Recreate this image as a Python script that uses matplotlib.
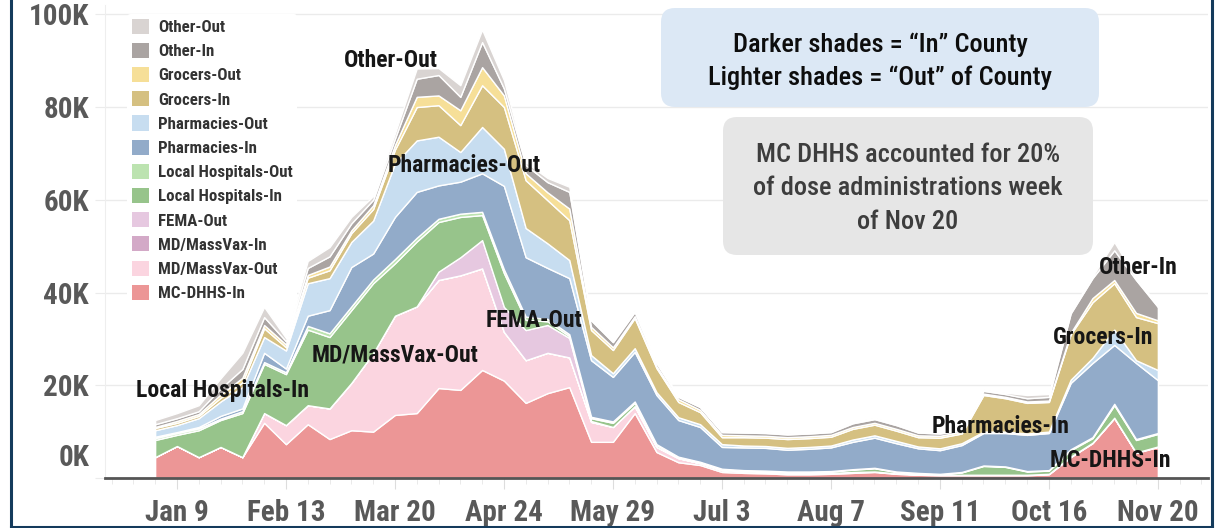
import matplotlib
matplotlib.use("Agg")
import matplotlib.pyplot as plt
import numpy as np
import pandas as pd
from matplotlib import font_manager
from matplotlib.patches import Patch, FancyBboxPatch
from matplotlib.lines import Line2D
from matplotlib.transforms import IdentityTransform

# weekly doses administered (thousands), week ending dates
weeks = pd.date_range("2021-01-02", "2021-11-20", freq="7D")

mc_dhhs_in = [4.5, 6.9, 4.5, 6.7, 4.5, 11.9, 7.3, 11.6, 8.4, 10.3, 10.0, 13.6, 14.0, 19.4, 19.0, 23.3,
              21.0, 16.2, 18.3, 19.6, 7.8, 7.8, 14.0, 5.6, 3.4, 2.8, 1.3, 1.1, 1.0, 0.8, 0.8, 0.9,
              1.1, 1.3, 0.9, 0.7, 0.6, 0.6, 0.6, 0.6, 0.6, 0.8, 4.5, 7.5, 12.9, 5.4, 6.7]
md_massvax_out = [0, 0, 0, 0, 0, 2.1, 4.1, 4.1, 6.6, 10.2, 16.9, 21.4, 23.0, 23.3, 24.7, 21.9,
                  10.5, 9.2, 8.7, 6.4, 4.3, 3.2, 1.5, 1.1, 0.9, 0.4, 0.4, 0.3, 0.3, 0.3, 0.3, 0.2,
                  0.2, 0.1, 0.1, 0.1, 0.1, 0.1, 0.1, 0.1, 0.1, 0.1, 0.1, 0.1, 0.1, 0.1, 0.1]
md_massvax_in = [0, 0, 0, 0, 0, 0, 0, 0, 0, 0, 0, 0, 0, 0, 0, 0,
                 0, 0, 0, 0, 0, 0, 0, 0, 0, 0, 0, 0, 0, 0, 0, 0,
                 0, 0, 0, 0, 0, 0, 0, 0, 0, 0, 0, 0, 0, 0, 0]
fema_out = [0, 0, 0, 0, 0, 0, 0, 0, 0, 0, 0, 0, 0, 1.8, 3.9, 6.1,
            5.4, 6.5, 6.0, 4.2, 0.2, 0, 0, 0, 0, 0, 0, 0, 0, 0, 0, 0,
            0, 0, 0, 0, 0, 0, 0, 0, 0, 0, 0, 0, 0, 0, 0]
local_hosp_in = [3.7, 2.4, 5.8, 5.8, 9.5, 10.6, 11.0, 16.3, 15.4, 15.7, 15.1, 11.3, 14.0, 10.7, 8.7, 5.4,
                 7.3, 2.2, 0.8, 0.4, 0.6, 0.9, 0.7, 0.4, 0.2, 0.2, 0.2, 0.2, 0.2, 0.2, 0.2, 0.3,
                 0.5, 0.7, 0.3, 0.2, 0.1, 0.5, 1.9, 1.7, 0.7, 0.7, 1.4, 1.0, 2.7, 2.7, 2.7]
local_hosp_out = [0.4, 0.4, 0.4, 0.3, 0.4, 0.4, 0.4, 0.8, 0.8, 0.8, 0.8, 0.9, 0.8, 0.7, 0.7, 0.7,
                  0.8, 0.7, 0.5, 0.4, 0.3, 0.3, 0.3, 0.2, 0.1, 0.1, 0.1, 0.1, 0.1, 0.1, 0.1, 0.1,
                  0.1, 0.1, 0.1, 0.1, 0.1, 0.1, 0.1, 0.1, 0.1, 0.1, 0.2, 0.2, 0.3, 0.2, 0.2]
pharm_in = [0.3, 0.2, 0.3, 0.6, 0.6, 2.0, 0.8, 2.2, 5.0, 8.5, 5.6, 9.1, 9.9, 7.2, 6.9, 8.3,
            18.0, 12.8, 11.0, 12.1, 12.2, 9.6, 10.7, 10.6, 7.9, 7.5, 4.7, 4.9, 4.9, 4.7, 4.9, 5.1,
            5.9, 6.5, 6.1, 5.3, 5.1, 5.8, 7.0, 7.2, 7.8, 8.0, 14.3, 16.0, 12.7, 16.4, 11.4]
pharm_out = [1.4, 1.5, 1.9, 3.1, 4.6, 3.4, 3.9, 7.0, 6.9, 5.4, 7.1, 11.5, 11.1, 10.5, 6.4, 10.0,
             8.0, 6.3, 5.3, 3.9, 1.1, 0.8, 0.8, 0.6, 0.6, 0.6, 0.6, 0.4, 0.4, 0.4, 0.4, 0.4,
             0.5, 0.5, 0.5, 0.4, 0.4, 0.4, 0.3, 0.3, 0.3, 0.3, 0.7, 1.1, 3.3, 0.6, 2.2]
grocers_in = [0.5, 0.5, 0.5, 0.8, 1.0, 1.9, 0.7, 1.2, 1.7, 1.9, 2.5, 3.0, 7.2, 6.8, 5.8, 9.0,
              9.0, 10.3, 9.3, 8.6, 5.4, 5.0, 6.5, 5.2, 3.3, 2.6, 1.5, 1.8, 1.8, 1.9, 1.9, 1.9,
              2.3, 2.3, 2.2, 2.0, 2.3, 2.1, 7.9, 7.2, 6.6, 6.4, 9.8, 12.0, 10.0, 9.3, 10.1]
grocers_out = [0.2, 0.4, 0.4, 0.7, 1.0, 0.7, 0.6, 0.6, 0.8, 0.6, 0.8, 1.0, 2.2, 2.1, 3.2, 3.9,
               2.5, 1.5, 1.7, 2.5, 0.7, 0.6, 0.4, 0.4, 0.6, 0.5, 0.5, 0.4, 0.4, 0.4, 0.4, 0.4,
               0.4, 0.4, 0.4, 0.4, 0.4, 0.4, 0.3, 0.3, 0.3, 0.3, 0.3, 0.9, 0.7, 0.9, 0.6]
other_in = [0.6, 0.6, 0.6, 1.3, 1.9, 1.7, 0.7, 1.5, 2.2, 1.5, 1.2, 1.4, 3.9, 4.4, 2.9, 5.4,
            1.5, 1.8, 2.2, 3.6, 1.4, 1.1, 0.9, 0.7, 0.5, 0.6, 0.6, 0.6, 0.6, 0.6, 0.6, 0.6,
            0.8, 0.8, 0.8, 0.6, 0.5, 0.3, 0.6, 0.6, 0.7, 0.8, 4.2, 4.3, 6.4, 7.1, 2.9]
other_out = [0.9, 1.1, 1.3, 2.2, 3.5, 2.2, 0.7, 1.5, 2.0, 1.4, 0.8, 1.1, 2.2, 1.5, 2.5, 2.7,
             1.8, 0.6, 0.9, 1.1, 0.4, 0.4, 0.5, 0.2, 0.2, 0.1, 0.2, 0.2, 0.2, 0.2, 0.2, 0.2,
             0.3, 0.3, 0.3, 0.2, 0.2, 0.2, 0.3, 0.3, 0.7, 0.6, 0.5, 0.4, 1.8, 0.4, 0.4]

series_names = ["MC-DHHS-In", "MD/MassVax-Out", "MD/MassVax-In", "FEMA-Out",
                "Local Hospitals-In", "Local Hospitals-Out", "Pharmacies-In", "Pharmacies-Out",
                "Grocers-In", "Grocers-Out", "Other-In", "Other-Out"]
series_values = [mc_dhhs_in, md_massvax_out, md_massvax_in, fema_out, local_hosp_in, local_hosp_out,
                 pharm_in, pharm_out, grocers_in, grocers_out, other_in, other_out]
series_colors = ["#ec9696", "#fbd5e0", "#d3a9c7", "#e6c8e0", "#97c48b", "#bce3b0",
                 "#92abc9", "#c7ddf0", "#d5c081", "#f6df98", "#aaa4a2", "#d9d4d2"]

# labels written on the areas: (text, week index, value in K)
area_labels = [("Other-Out", 10.8, 90.0), ("Pharmacies-Out", 14.2, 67.3),
               ("MD/MassVax-Out", 11.0, 26.5), ("FEMA-Out", 17.4, 34.0),
               ("Local Hospitals-In", 3.1, 18.8), ("Pharmacies-In", 38.8, 11.2),
               ("MC-DHHS-In", 43.8, 3.7), ("Grocers-In", 43.5, 30.2), ("Other-In", 45.1, 45.3)]

# a condensed face is closest to the original; fall back to Liberation Sans (wider, so smaller)
names = {f.name for f in font_manager.fontManager.ttflist}
COND = None
for cand in ["Roboto Condensed", "Archivo Narrow", "Asap Condensed", "Barlow Semi Condensed"]:
    if cand in names:
        COND = cand
        break
if COND is None:
    COND, k = "Liberation Sans", 0.82
else:
    k = 1.0

W, H = 1216, 528
fig = plt.figure(figsize=(W / 100, H / 100), dpi=100)
ax = fig.add_axes([105 / W, 50 / H, (1208 - 105) / W, 473 / H])

x = np.arange(len(weeks))
ax.stackplot(x, *series_values, colors=series_colors, edgecolor="white", linewidth=1.0, zorder=2)

ax.set_xlim(-2.3, 48.3)
ax.set_ylim(0, 102)

for s in ["top", "right"]:
    ax.spines[s].set_visible(False)
ax.spines["left"].set_color("#eeeeee")
ax.spines["bottom"].set_color("#555555")
ax.spines["bottom"].set_linewidth(2)
ax.spines["bottom"].set_zorder(5)

tick_size = 21 * k
yt = [0, 20, 40, 60, 80, 100]
ax.set_yticks(yt)
ax.set_yticklabels([""] + ["%dK" % v for v in yt[1:]])
ax.yaxis.grid(True, color="#ebebeb", linewidth=1, zorder=0)
ax.set_axisbelow(True)
ax.tick_params(axis="y", length=7.5, color="#ebebeb", pad=4, labelsize=tick_size, labelcolor="#595959")
ax.annotate("0K", xy=(0, 0), xycoords=("axes fraction", "data"), xytext=(-16, 20),
            textcoords="offset pixels", ha="right", va="center", fontsize=tick_size,
            color="#595959", family=COND, fontweight="bold")

major = list(range(1, len(weeks), 5))
ax.set_xticks(major)
ax.set_xticklabels([weeks[i].strftime("%b ") + str(weeks[i].day) for i in major])
ax.set_xticks(np.arange(-2, 49), minor=True)
ax.tick_params(axis="x", which="major", length=8, color="#dddddd", pad=7, labelsize=tick_size,
               labelcolor="#595959")
ax.tick_params(axis="x", which="minor", length=4, color="#e6e6e6")
for lab in ax.get_xticklabels() + ax.get_yticklabels():
    lab.set_family(COND)
    lab.set_fontweight("bold")

for txt, xi, yv in area_labels:
    ax.text(xi, yv, txt, ha="center", va="center", fontsize=17 * k, fontweight="bold",
            family=COND, color="#161616", zorder=6)

# legend, top item first
handles = [Patch(facecolor=c, edgecolor="none") for c in series_colors[::-1]]
leg = fig.legend(handles, series_names[::-1], loc="upper left", bbox_to_anchor=(119 / W, 1 - 6 / H),
                 frameon=True, facecolor="white", edgecolor="none", framealpha=1,
                 handlelength=1.0, handleheight=1.0, handletextpad=0.55, labelspacing=0.46,
                 borderpad=0.25, prop={"family": COND, "weight": "bold", "size": 12.2 * k})
for t in leg.get_texts():
    t.set_color("#333333")


def box(x0, y0, x1, y1, color):
    p = FancyBboxPatch((x0, H - y1), x1 - x0, y1 - y0, boxstyle="round,pad=0,rounding_size=14",
                       facecolor=color, edgecolor="none", transform=IdentityTransform(), zorder=8)
    fig.add_artist(p)


box(661, 8, 1099, 107, "#dce8f5")
box(723, 117, 1093, 255, "#e6e6e6")
for line, yy in [("Darker shades = \u201cIn\u201d County", 45), ("Lighter shades = \u201cOut\u201d of County", 78)]:
    fig.text(880 / W, 1 - yy / H, line, ha="center", va="center", fontsize=19 * k, family=COND,
             fontweight="medium", color="#0d0d0d", zorder=9)
for line, yy in [("MC DHHS accounted for 20%", 155), ("of dose administrations week", 188),
                 ("of Nov 20", 222)]:
    fig.text(908 / W, 1 - yy / H, line, ha="center", va="center", fontsize=19 * k, family=COND,
             fontweight="medium", color="#3d3d3d", zorder=9)

# slide frame
for xx in [11, 1212]:
    fig.add_artist(Line2D([xx / W, xx / W], [0, 1], color="#143b5c", linewidth=2.2,
                          transform=fig.transFigure))
fig.add_artist(Line2D([11 / W, 1212 / W], [1.2 / H, 1.2 / H], color="#143b5c", linewidth=2.2,
                      transform=fig.transFigure))

fig.savefig("out.png", dpi=100)
